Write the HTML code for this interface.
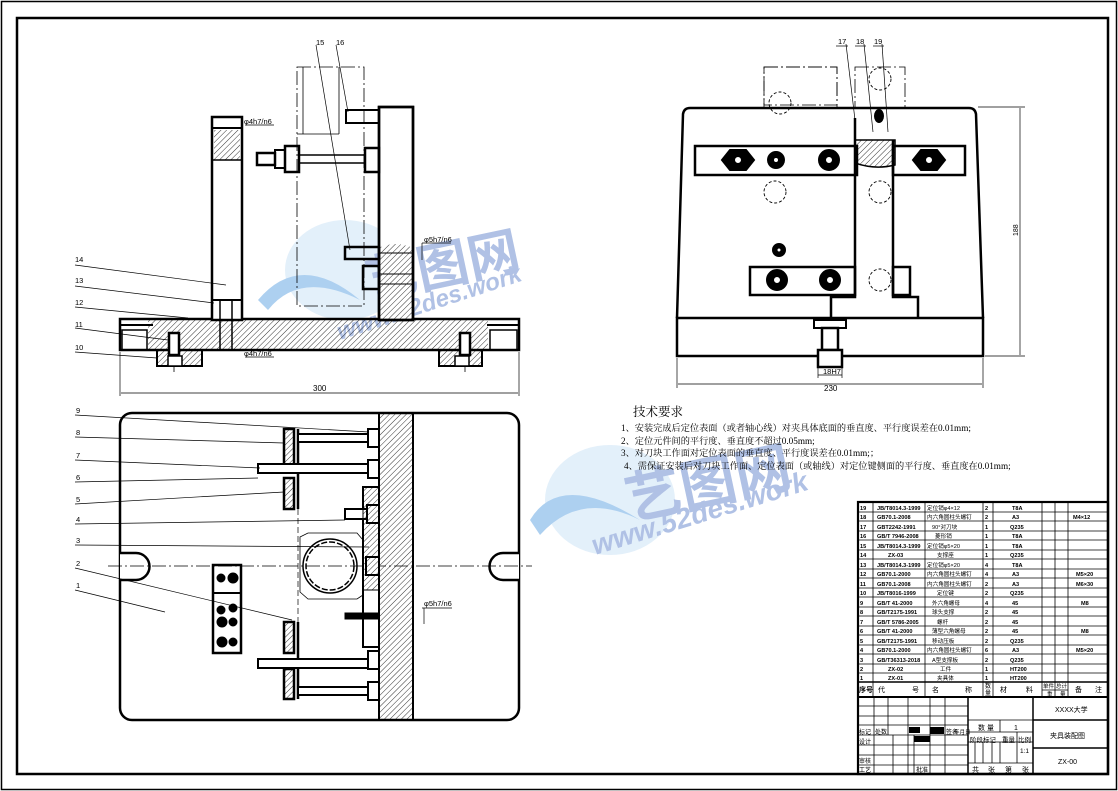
<!DOCTYPE html>
<html><head><meta charset="utf-8"><style>
html,body{margin:0;padding:0;background:#fff;}
svg{display:block;}
text{font-family:"Liberation Sans","Noto Sans CJK SC",sans-serif;fill:#000;}
.cn{font-family:"Liberation Serif","Noto Serif CJK SC",serif;}
</style></head><body>
<svg width="1118" height="791" viewBox="0 0 1118 791" xmlns="http://www.w3.org/2000/svg">
<defs>
<pattern id="h" width="4" height="4" patternUnits="userSpaceOnUse" patternTransform="rotate(45)">
<line x1="0" y1="0" x2="0" y2="4" stroke="#000" stroke-width="0.8"/></pattern>
</defs>
<rect x="1.5" y="1.5" width="1115" height="788" fill="none" stroke="#000" stroke-width="1.5"/>
<rect x="17" y="18" width="1091" height="756" fill="none" stroke="#000" stroke-width="2.5"/>

<g opacity="0.55">
<ellipse cx="345" cy="270" rx="60" ry="50" fill="#9cc8ee" opacity="0.5"/>
<path d="M258 300 Q300 250 360 300 Q300 270 268 310 Z" fill="#6aa9e4"/>
<text x="370" y="300" font-size="52" font-weight="bold" transform="rotate(-12 370 300)" style="fill:#6f8fd0">艺图网</text>
<text x="340" y="340" font-size="24" font-weight="bold" font-style="italic" transform="rotate(-18 340 340)" style="fill:#6f8fd0">www.52des.work</text>
<ellipse cx="610" cy="500" rx="65" ry="55" fill="#9cc8ee" opacity="0.5"/>
<path d="M530 520 Q560 470 640 520 Q580 490 540 535 Z" fill="#6aa9e4"/>
<text x="630" y="520" font-size="56" font-weight="bold" transform="rotate(-12 630 520)" style="fill:#6f8fd0">艺图网</text>
<text x="595" y="555" font-size="28" font-weight="bold" font-style="italic" transform="rotate(-17 595 555)" style="fill:#6f8fd0">www.52des.work</text>
</g>

<g stroke="#000" fill="none">
<rect x="297" y="67" width="67" height="239" stroke-width="0.8" stroke-dasharray="14 3 2 3"/>
<line x1="303" y1="67" x2="303" y2="134" stroke-width="0.8"/>
<line x1="297" y1="134" x2="339" y2="134" stroke-width="0.8"/>
<line x1="339" y1="67" x2="339" y2="134" stroke-width="0.8"/>
<rect x="148" y="320" width="340" height="30" fill="url(#h)" stroke="none"/>
<rect x="120" y="319" width="399" height="31" stroke-width="2.5"/>
<rect x="122" y="330" width="25" height="20" stroke-width="1.5"/>
<rect x="490" y="330" width="27" height="20" stroke-width="1.5"/>
<line x1="120" y1="325" x2="153" y2="325" stroke-width="2"/>
<line x1="487" y1="325" x2="519" y2="325" stroke-width="2"/>
<rect x="379" y="107" width="34" height="213" fill="#fff" stroke-width="2.5"/>
<path d="M379 248 Q395 240 413 248 L413 320 L379 320 Z" fill="url(#h)" stroke="none"/>
<rect x="379" y="107" width="34" height="213" stroke-width="2.5"/>
<rect x="212" y="117" width="30" height="203" fill="#fff" stroke-width="2.5"/>
<rect x="214" y="130" width="26" height="30" fill="url(#h)" stroke="none"/>
<line x1="212" y1="128" x2="242" y2="128" stroke-width="2"/>
<line x1="212" y1="160" x2="242" y2="160" stroke-width="1.5"/>
<line x1="212" y1="300" x2="242" y2="300" stroke-width="2"/>
<line x1="220" y1="300" x2="220" y2="350" stroke-width="1.5"/>
<line x1="232" y1="300" x2="232" y2="350" stroke-width="1.5"/>
<path d="M157 350 V366 H202 V350" fill="url(#h)" stroke-width="2"/>
<path d="M439 350 V366 H482 V350" fill="url(#h)" stroke-width="2"/>
<rect x="168" y="356" width="14" height="10" fill="#fff" stroke-width="1.5"/>
<rect x="455" y="356" width="14" height="10" fill="#fff" stroke-width="1.5"/>
<rect x="169" y="333" width="10" height="22" fill="#fff" stroke-width="2.5"/>
<rect x="460" y="333" width="10" height="22" fill="#fff" stroke-width="2.5"/>
<line x1="174" y1="366" x2="174" y2="372" stroke-width="0.8"/>
<line x1="465" y1="366" x2="465" y2="372" stroke-width="0.8"/>
<rect x="346" y="110" width="33" height="13" stroke-width="2"/>
<rect x="257" y="153" width="18" height="12" stroke-width="2.5"/>
<rect x="275" y="150" width="10" height="18" stroke-width="2"/>
<rect x="285" y="146" width="14" height="26" stroke-width="2.5"/>
<line x1="299" y1="155" x2="365" y2="155" stroke-width="1.5"/>
<line x1="299" y1="163" x2="365" y2="163" stroke-width="1.5"/>
<rect x="365" y="148" width="14" height="24" stroke-width="2.5"/>
<rect x="345" y="247" width="34" height="12" stroke-width="2.5"/>
<rect x="363" y="266" width="16" height="23" stroke-width="2.5"/>
<line x1="379" y1="253" x2="413" y2="253" stroke-width="1"/>
<line x1="379" y1="274" x2="413" y2="274" stroke-width="1"/>
<line x1="379" y1="284" x2="413" y2="284" stroke-width="1"/>
<g stroke-width="0.7">
<line x1="75" y1="265" x2="226" y2="285"/><line x1="75" y1="286" x2="214" y2="303"/>
<line x1="75" y1="307" x2="188" y2="318"/><line x1="75" y1="328" x2="168" y2="340"/>
<line x1="75" y1="352" x2="157" y2="358"/>
<line x1="316" y1="45" x2="350" y2="250"/><line x1="336" y1="45" x2="348" y2="112"/>
<line x1="120" y1="352" x2="120" y2="396"/><line x1="519" y1="352" x2="519" y2="396"/>
<line x1="121" y1="393" x2="518" y2="393"/>
<line x1="245" y1="125" x2="274" y2="125"/><line x1="245" y1="357" x2="274" y2="357"/>
<line x1="422" y1="243" x2="451" y2="243"/><line x1="422" y1="243" x2="422" y2="260"/>
</g>
</g>
<g font-size="7.5">
<text x="75" y="262">14</text><text x="75" y="283">13</text><text x="75" y="305">12</text>
<text x="75" y="327">11</text><text x="75" y="350">10</text>
<text x="316" y="45">15</text><text x="336" y="45">16</text>
<text x="244" y="124">φ4h7/n6</text><text x="244" y="356">φ4h7/n6</text>
<text x="424" y="242">φ5h7/n6</text>
<text x="313" y="391" font-size="8">300</text>
</g>

<g stroke="#000" fill="none">
<rect x="764" y="67" width="73" height="38" stroke-width="0.8" stroke-dasharray="14 3 2 3"/>
<rect x="764" y="67" width="73" height="238" stroke-width="0.8" stroke-dasharray="14 3 2 3"/>
<rect x="855" y="67" width="50" height="238" stroke-width="0.8" stroke-dasharray="14 3 2 3"/>
<path d="M677 318 L683 114 Q684 108 690 108 L969 108 Q975 108 976 114 L983 318" stroke-width="2.5" fill="#fff"/>
<rect x="677" y="318" width="306" height="38" stroke-width="2.5"/>
<rect x="695" y="146" width="162" height="29" stroke-width="2.5" fill="#fff"/>
<rect x="893" y="146" width="72" height="29" stroke-width="2.5" fill="#fff"/>
<rect x="750" y="267" width="105" height="28" stroke-width="2.5" fill="#fff"/>
<rect x="893" y="267" width="17" height="28" stroke-width="2.5" fill="#fff"/>
<path d="M855 118 L855 297 L831 297 L831 318 M893 140 L893 297 L918 297 L918 318" stroke-width="2.5"/>
<path d="M855 140 L895 140 L895 165 Q875 170 855 163 Z" fill="url(#h)" stroke-width="1.5"/>
<g stroke-width="2">
<path d="M722 160 l8 -10 h16 l8 10 l-8 10 h-16 z" fill="#000"/><circle cx="738" cy="160" r="4" fill="#fff"/>
<path d="M913 160 l8 -10 h16 l8 10 l-8 10 h-16 z" fill="#000"/><circle cx="929" cy="160" r="4" fill="#fff"/>
<circle cx="829" cy="160" r="10" fill="#000"/><circle cx="829" cy="160" r="4" fill="#fff"/>
<circle cx="776" cy="160" r="8" fill="#000"/><circle cx="776" cy="160" r="3" fill="#fff"/>
<circle cx="777" cy="280" r="10" fill="#000"/><circle cx="777" cy="280" r="4" fill="#fff"/>
<circle cx="830" cy="280" r="10" fill="#000"/><circle cx="830" cy="280" r="4" fill="#fff"/>
<circle cx="779" cy="250" r="6" fill="#000"/><circle cx="779" cy="250" r="2.5" fill="#fff"/>
<ellipse cx="879" cy="116" rx="4" ry="6" fill="#000"/>
</g>
<g stroke-width="0.9" stroke-dasharray="3 2">
<circle cx="780" cy="103" r="11"/><circle cx="880" cy="79" r="11"/><circle cx="775" cy="192" r="11"/>
<circle cx="880" cy="192" r="11"/><circle cx="880" cy="280" r="11"/>
</g>
<rect x="814" y="320" width="32" height="8" stroke-width="2"/>
<rect x="822" y="328" width="16" height="22" stroke-width="2.5"/>
<rect x="818" y="350" width="24" height="17" stroke-width="2.5" fill="#fff"/>
<g stroke-width="0.7">
<line x1="818" y1="368" x2="818" y2="378"/><line x1="842" y1="368" x2="842" y2="378"/><line x1="818" y1="375" x2="842" y2="375"/>
<line x1="677" y1="358" x2="677" y2="388"/><line x1="983" y1="358" x2="983" y2="388"/>
<line x1="678" y1="384" x2="982" y2="384"/>
<line x1="978" y1="107" x2="1025" y2="107"/><line x1="985" y1="356" x2="1025" y2="356"/>
<line x1="1020" y1="108" x2="1020" y2="355"/>
<line x1="846" y1="44" x2="855" y2="120"/><line x1="864" y1="44" x2="873" y2="132"/><line x1="882" y1="44" x2="888" y2="132"/>
<line x1="836" y1="46" x2="848" y2="46"/><line x1="855" y1="46" x2="866" y2="46"/><line x1="873" y1="46" x2="884" y2="46"/>
</g>
</g>
<g font-size="7.5">
<text x="823" y="374">18H7</text><text x="824" y="391" font-size="8">230</text>
<text x="838" y="44">17</text><text x="856" y="44">18</text><text x="874" y="44">19</text>
<text x="1018" y="236" transform="rotate(-90 1018 236)" font-size="7">188</text>
</g>

<g stroke="#000" fill="none">
<rect x="120" y="413" width="399" height="307" rx="12" stroke-width="2.5"/>
<rect x="379" y="413" width="34" height="307" fill="url(#h)" stroke-width="2"/>
<path d="M120 553 H136 A13 13 0 0 1 136 580 H120" fill="#fff" stroke-width="2.5"/>
<path d="M519 553 H503 A13 13 0 0 0 503 580 H519" fill="#fff" stroke-width="2.5"/>
<line x1="108" y1="566" x2="532" y2="566" stroke-width="0.7" stroke-dasharray="14 3 2 3"/>
<rect x="213" y="565" width="28" height="88" stroke-width="2.5"/>
<g fill="#000"><circle cx="221" cy="578" r="4"/><circle cx="233" cy="578" r="5"/><circle cx="221" cy="610" r="4"/><circle cx="233" cy="608" r="4"/><circle cx="222" cy="622" r="5"/><circle cx="233" cy="622" r="4"/><circle cx="222" cy="642" r="5"/><circle cx="233" cy="642" r="4"/></g>
<line x1="213" y1="593" x2="241" y2="593" stroke-width="2"/>
<g stroke-width="2.5">
<rect x="284" y="429" width="10" height="37" fill="url(#h)"/>
<rect x="284" y="478" width="10" height="31" fill="url(#h)"/>
<rect x="284" y="622" width="10" height="31" fill="url(#h)"/>
<rect x="284" y="669" width="10" height="30" fill="url(#h)"/>
<line x1="298" y1="429" x2="298" y2="509"/><line x1="298" y1="622" x2="298" y2="699"/>
<rect x="258" y="464" width="121" height="9" fill="#fff" stroke-width="2"/>
<rect x="258" y="659" width="121" height="9" fill="#fff" stroke-width="2"/>
<rect x="298" y="434" width="81" height="8" fill="#fff" stroke-width="2"/>
<rect x="298" y="687" width="81" height="8" fill="#fff" stroke-width="2"/>
<rect x="368" y="429" width="11" height="18" fill="#fff" stroke-width="2"/>
<rect x="368" y="460" width="11" height="18" fill="#fff" stroke-width="2"/>
<rect x="368" y="651" width="11" height="18" fill="#fff" stroke-width="2"/>
<rect x="368" y="682" width="11" height="18" fill="#fff" stroke-width="2"/>
<rect x="363" y="487" width="16" height="160" fill="#fff" stroke-width="2"/>
<rect x="345" y="509" width="24" height="10" fill="#fff" stroke-width="2"/>
<rect x="367" y="505" width="12" height="18" fill="#fff" stroke-width="2"/>
<rect x="366" y="557" width="13" height="18" fill="#fff" stroke-width="2"/>
<rect x="345" y="613" width="34" height="6" fill="#000" stroke-width="1"/>
</g>
<path d="M363 487 H379 V590 H363 Z" fill="url(#h)" stroke-width="1"/>
<g stroke-width="1.5">
<circle cx="330" cy="566" r="27"/><circle cx="330" cy="566" r="24" stroke-dasharray="6 2"/>
<path d="M300 537 L308 533 H357 L363 540 V595 L357 599 H308 L300 592 Z" stroke-width="0.8"/>
</g>
<line x1="298" y1="500" x2="298" y2="640" stroke-width="0.7" stroke-dasharray="6 3"/>
<g stroke-width="0.7">
<line x1="75" y1="415" x2="369" y2="432"/><line x1="75" y1="437" x2="284" y2="443"/>
<line x1="75" y1="460" x2="260" y2="468"/><line x1="75" y1="482" x2="258" y2="478"/>
<line x1="75" y1="504" x2="284" y2="492"/><line x1="75" y1="524" x2="345" y2="520"/>
<line x1="75" y1="545" x2="369" y2="547"/><line x1="75" y1="568" x2="292" y2="620"/>
<line x1="75" y1="590" x2="165" y2="612"/>
<line x1="422" y1="608" x2="452" y2="608"/><line x1="424" y1="608" x2="424" y2="624"/>
</g>
</g>
<g font-size="7.5">
<text x="76" y="413">9</text><text x="76" y="435">8</text><text x="76" y="458">7</text>
<text x="76" y="480">6</text><text x="76" y="502">5</text><text x="76" y="522">4</text>
<text x="76" y="543">3</text><text x="76" y="566">2</text><text x="76" y="588">1</text>
<text x="424" y="606">φ5h7/n6</text>
</g>

<g class="cn">
<text x="633" y="416" font-size="12.5" class="cn">技术要求</text>
<text x="621" y="431" font-size="9.2" class="cn">1、安装完成后定位表面（或者轴心线）对夹具体底面的垂直度、平行度误差在0.01mm;</text>
<text x="621" y="444" font-size="9.2" class="cn">2、定位元件间的平行度、垂直度不超过0.05mm;</text>
<text x="621" y="456" font-size="9.2" class="cn">3、对刀块工作面对定位表面的垂直度、平行度误差在0.01mm;；</text>
<text x="624" y="469" font-size="9.2" class="cn">4、需保证安装后对刀块工作面、定位表面（或轴线）对定位键侧面的平行度、垂直度在0.01mm;</text>
</g>

<g stroke="#000" fill="none" stroke-width="0.8">
<rect x="858" y="502" width="250" height="272" stroke-width="2.2"/>
<line x1="873" y1="502" x2="873" y2="697"/>
<line x1="925" y1="502" x2="925" y2="697"/>
<line x1="983" y1="502" x2="983" y2="697"/>
<line x1="993" y1="502" x2="993" y2="697"/>
<line x1="1042" y1="502" x2="1042" y2="697"/>
<line x1="1055" y1="502" x2="1055" y2="697"/>
<line x1="1068" y1="502" x2="1068" y2="697"/>
<line x1="1042" y1="690" x2="1068" y2="690"/>
<line x1="858" y1="697" x2="1108" y2="697" stroke-width="2"/>
<line x1="858" y1="682" x2="1108" y2="682" stroke-width="1.5"/>
<line x1="968" y1="697" x2="968" y2="774" stroke-width="1.5"/>
<line x1="1033" y1="697" x2="1033" y2="774" stroke-width="1.5"/>
<line x1="1033" y1="720" x2="1108" y2="720" stroke-width="1.5"/>
<line x1="1033" y1="748" x2="1108" y2="748" stroke-width="1.5"/>
<line x1="968" y1="720" x2="1033" y2="720"/>
<line x1="968" y1="732" x2="1033" y2="732"/>
<line x1="968" y1="742" x2="1033" y2="742"/>
<line x1="968" y1="763" x2="1033" y2="763"/>
<line x1="1000" y1="720" x2="1000" y2="732"/>
<line x1="1000" y1="742" x2="1000" y2="763"/>
<line x1="1017" y1="732" x2="1017" y2="763"/>
<line x1="975" y1="742" x2="975" y2="763"/><line x1="983" y1="742" x2="983" y2="763"/><line x1="992" y1="742" x2="992" y2="763"/>
<line x1="858" y1="706" x2="968" y2="706"/><line x1="858" y1="716" x2="968" y2="716"/>
<line x1="858" y1="725" x2="968" y2="725"/><line x1="858" y1="735" x2="968" y2="735"/>
<line x1="858" y1="745" x2="968" y2="745"/><line x1="858" y1="755" x2="968" y2="755"/>
<line x1="858" y1="765" x2="968" y2="765"/>
<line x1="874" y1="697" x2="874" y2="774"/><line x1="888" y1="697" x2="888" y2="735"/>
<line x1="893" y1="735" x2="893" y2="774"/>
<line x1="908" y1="697" x2="908" y2="774"/><line x1="914" y1="735" x2="914" y2="774"/>
<line x1="930" y1="697" x2="930" y2="774"/><line x1="945" y1="697" x2="945" y2="774"/>
</g>
<rect x="909" y="727" width="11" height="6" fill="#000"/>
<rect x="930" y="727" width="14" height="7" fill="#000"/>
<rect x="914" y="736" width="16" height="6" fill="#000"/>
<g stroke="#000" stroke-width="0.8">
<line x1="858" y1="512" x2="1108" y2="512"/><line x1="858" y1="521" x2="1108" y2="521"/>
<line x1="858" y1="531" x2="1108" y2="531"/><line x1="858" y1="540" x2="1108" y2="540"/>
<line x1="858" y1="550" x2="1108" y2="550"/><line x1="858" y1="559" x2="1108" y2="559"/>
<line x1="858" y1="569" x2="1108" y2="569"/><line x1="858" y1="578" x2="1108" y2="578"/>
<line x1="858" y1="588" x2="1108" y2="588"/><line x1="858" y1="597" x2="1108" y2="597"/>
<line x1="858" y1="607" x2="1108" y2="607"/><line x1="858" y1="616" x2="1108" y2="616"/>
<line x1="858" y1="626" x2="1108" y2="626"/><line x1="858" y1="635" x2="1108" y2="635"/>
<line x1="858" y1="645" x2="1108" y2="645"/><line x1="858" y1="654" x2="1108" y2="654"/>
<line x1="858" y1="664" x2="1108" y2="664"/><line x1="858" y1="673" x2="1108" y2="673"/>
</g>
<g font-size="5.6" font-weight="bold">
<text x="860" y="510">19</text><text x="877" y="510">JB/T8014.3-1999</text><text x="927" y="510" font-weight="normal">定位销φ4×12</text><text x="985" y="510">2</text><text x="1012" y="510">T8A</text>
<text x="860" y="519">18</text><text x="877" y="519">GB70.1-2008</text><text x="927" y="519" font-weight="normal">内六角圆柱头螺钉</text><text x="985" y="519">2</text><text x="1012" y="519">A3</text><text x="1073" y="519">M4×12</text>
<text x="860" y="529">17</text><text x="877" y="529">GBT2242-1991</text><text x="932" y="529" font-weight="normal">90°对刀块</text><text x="985" y="529">1</text><text x="1010" y="529">Q235</text>
<text x="860" y="538">16</text><text x="877" y="538">GB/T 7946-2008</text><text x="935" y="538" font-weight="normal">菱形销</text><text x="985" y="538">1</text><text x="1012" y="538">T8A</text>
<text x="860" y="548">15</text><text x="877" y="548">JB/T8014.3-1999</text><text x="927" y="548" font-weight="normal">定位销φ5×20</text><text x="985" y="548">1</text><text x="1012" y="548">T8A</text>
<text x="860" y="557">14</text><text x="888" y="557">ZX-03</text><text x="937" y="557" font-weight="normal">支撑座</text><text x="985" y="557">1</text><text x="1010" y="557">Q235</text>
<text x="860" y="567">13</text><text x="877" y="567">JB/T8014.3-1999</text><text x="927" y="567" font-weight="normal">定位销φ5×20</text><text x="985" y="567">4</text><text x="1012" y="567">T8A</text>
<text x="860" y="576">12</text><text x="877" y="576">GB70.1-2000</text><text x="927" y="576" font-weight="normal">内六角圆柱头螺钉</text><text x="985" y="576">4</text><text x="1012" y="576">A3</text><text x="1076" y="576">M5×20</text>
<text x="860" y="586">11</text><text x="877" y="586">GB70.1-2008</text><text x="927" y="586" font-weight="normal">内六角圆柱头螺钉</text><text x="985" y="586">2</text><text x="1012" y="586">A3</text><text x="1076" y="586">M6×30</text>
<text x="860" y="595">10</text><text x="877" y="595">JB/T8016-1999</text><text x="937" y="595" font-weight="normal">定位键</text><text x="985" y="595">2</text><text x="1010" y="595">Q235</text>
<text x="860" y="605">9</text><text x="877" y="605">GB/T 41-2000</text><text x="932" y="605" font-weight="normal">外六角螺母</text><text x="985" y="605">4</text><text x="1012" y="605">45</text><text x="1081" y="605">M8</text>
<text x="860" y="614">8</text><text x="877" y="614">GB/T2175-1991</text><text x="932" y="614" font-weight="normal">球头支撑</text><text x="985" y="614">2</text><text x="1012" y="614">45</text>
<text x="860" y="624">7</text><text x="877" y="624">GB/T 5786-2005</text><text x="937" y="624" font-weight="normal">螺杆</text><text x="985" y="624">2</text><text x="1012" y="624">45</text>
<text x="860" y="633">6</text><text x="877" y="633">GB/T 41-2000</text><text x="932" y="633" font-weight="normal">薄型六角螺母</text><text x="985" y="633">2</text><text x="1012" y="633">45</text><text x="1081" y="633">M8</text>
<text x="860" y="643">5</text><text x="877" y="643">GB/T2175-1991</text><text x="932" y="643" font-weight="normal">移动压板</text><text x="985" y="643">2</text><text x="1010" y="643">Q235</text>
<text x="860" y="652">4</text><text x="877" y="652">GB70.1-2000</text><text x="927" y="652" font-weight="normal">内六角圆柱头螺钉</text><text x="985" y="652">6</text><text x="1012" y="652">A3</text><text x="1076" y="652">M5×20</text>
<text x="860" y="662">3</text><text x="877" y="662">GB/T36313-2018</text><text x="932" y="662" font-weight="normal">A型支撑板</text><text x="985" y="662">2</text><text x="1010" y="662">Q235</text>
<text x="860" y="671">2</text><text x="888" y="671">ZX-02</text><text x="940" y="671" font-weight="normal">工件</text><text x="985" y="671">1</text><text x="1010" y="671">HT200</text>
<text x="860" y="680">1</text><text x="888" y="680">ZX-01</text><text x="937" y="680" font-weight="normal">夹具体</text><text x="985" y="680">1</text><text x="1010" y="680">HT200</text>
</g>
<g font-size="7" class="cn">
<text x="859" y="692" font-weight="bold">序号</text><text x="878" y="692">代</text><text x="912" y="692">号</text>
<text x="932" y="692">名</text><text x="965" y="692">称</text><text x="985" y="688" font-size="6">数</text><text x="985" y="695" font-size="6">量</text>
<text x="1000" y="692">材</text><text x="1026" y="692">料</text>
<text x="1043" y="688" font-size="5.5">单件</text><text x="1056" y="688" font-size="5.5">总计</text><text x="1047" y="696" font-size="5.5">重</text><text x="1060" y="696" font-size="5.5">量</text>
<text x="1075" y="692">备</text><text x="1095" y="692">注</text>
<text x="1055" y="712">XXXX大学</text>
<text x="1050" y="738">夹具装配图</text>
<text x="1058" y="764">ZX-00</text>
<text x="978" y="730">数 量</text><text x="1014" y="730">1</text>
<text x="970" y="742" font-size="6.5">阶段标记</text><text x="1002" y="742" font-size="6.5">重量</text><text x="1018" y="742" font-size="6.5">比例</text>
<text x="1020" y="753" font-size="6.5">1:1</text>
<text x="972" y="772">共</text><text x="988" y="772">张</text><text x="1005" y="772">第</text><text x="1022" y="772">张</text>
<text x="859" y="734" font-size="6">标记</text><text x="875" y="734" font-size="6">处数</text><text x="946" y="734" font-size="6">签名</text><text x="954" y="734" font-size="5.5">年月日</text>
<text x="859" y="744" font-size="6">设计</text><text x="859" y="763" font-size="6">审核</text><text x="859" y="772" font-size="6">工艺</text><text x="916" y="772" font-size="6">批准</text>
</g>
</svg>
</body></html>
